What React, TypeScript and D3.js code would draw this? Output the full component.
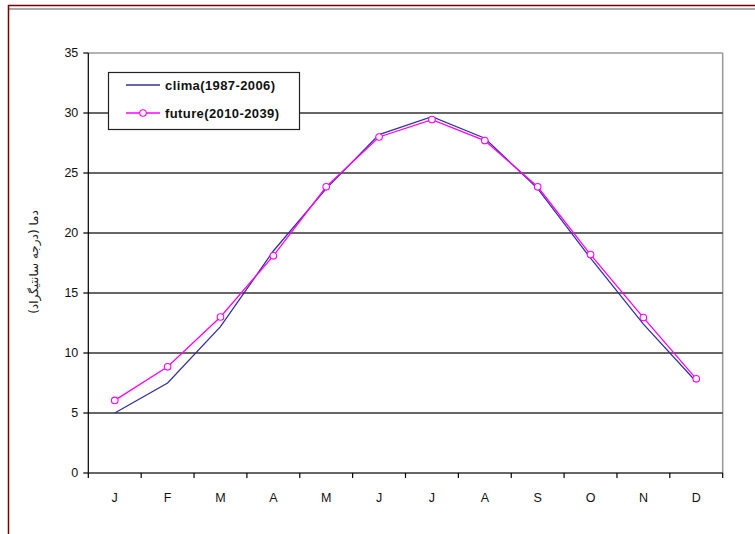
import React from "react";
import * as d3 from "d3";

const months = ["J", "F", "M", "A", "M", "J", "J", "A", "S", "O", "N", "D"];
const clima = [5.0, 7.5, 12.2, 18.5, 23.7, 28.2, 29.7, 27.9, 23.7, 17.9, 12.4, 7.6];
const future = [6.05, 8.85, 13.0, 18.1, 23.85, 28.0, 29.45, 27.7, 23.85, 18.2, 12.95, 7.85];
const yTicks = [0, 5, 10, 15, 20, 25, 30, 35];
const seriesNames = ["clima(1987-2006)", "future(2010-2039)"];
const yLabel = "دما (درجه سانتیگراد)";

export default function App() {
  const W = 755, H = 534;
  const left = 88.3, right = 722.7, top = 53, bottom = 473;
  const x = d3.scaleBand<number>().domain(d3.range(12)).range([left, right]);
  const y = d3.scaleLinear().domain([0, 35]).range([bottom, top]);
  const cx = (i: number) => (x(i) as number) + x.bandwidth() / 2;
  const line = d3.line<number>().x((_, i) => cx(i)).y((d) => y(d));
  const font = "'Liberation Sans', Arial, sans-serif";
  const tickX = d3.range(13).map((i) => left + i * x.step());

  return (
    <svg width={W} height={H} style={{ position: "absolute", left: 0, top: 0, background: "#fff" }} fontFamily={font}>
      {/* outer frame */}
      <line x1={8} x2={755} y1={5.5} y2={5.5} stroke="#7a0000" strokeWidth={1.5} />
      <line x1={9} x2={755} y1={9} y2={9} stroke="#555" strokeWidth={1.2} />
      <line x1={8.5} x2={8.5} y1={5} y2={534} stroke="#7a0000" strokeWidth={1.5} />

      {/* plot border top/right */}
      <line x1={left} x2={right} y1={top} y2={top} stroke="#999" strokeWidth={1.5} />
      <line x1={right} x2={right} y1={top} y2={bottom} stroke="#999" strokeWidth={1.5} />

      {/* gridlines */}
      {yTicks.filter((t) => t > 0 && t < 35).map((t) => (
        <line key={t} x1={left} x2={right} y1={y(t)} y2={y(t)} stroke="#333" strokeWidth={1.6} />
      ))}

      {/* y axis */}
      <line x1={left} x2={left} y1={top} y2={bottom} stroke="#000" strokeWidth={1.2} />
      {yTicks.map((t) => (
        <g key={t}>
          <line x1={left - 5} x2={left} y1={y(t)} y2={y(t)} stroke="#000" strokeWidth={1.2} />
          <text x={left - 10} y={y(t)} dy="0.35em" textAnchor="end" fontSize={12.5} fill="#111">{t}</text>
        </g>
      ))}

      {/* x axis */}
      <line x1={left} x2={right} y1={bottom} y2={bottom} stroke="#333" strokeWidth={1.6} />
      {tickX.map((tx, i) => (
        <line key={i} x1={tx} x2={tx} y1={bottom} y2={bottom + 5} stroke="#000" strokeWidth={1.2} />
      ))}
      {months.map((m, i) => (
        <text key={i} x={cx(i)} y={bottom + 29} textAnchor="middle" fontSize={12.5} fill="#111">{m}</text>
      ))}

      {/* y label */}
      <text transform={`translate(38,262) rotate(-90)`} textAnchor="middle" fontSize={12} fill="#222" direction="rtl" fontFamily="'DejaVu Sans', sans-serif">{yLabel}</text>

      {/* series */}
      <path d={line(clima) as string} fill="none" stroke="#333399" strokeWidth={1.3} />
      <path d={line(future) as string} fill="none" stroke="#ff00ff" strokeWidth={1.3} />
      {future.map((v, i) => (
        <circle key={i} cx={cx(i)} cy={y(v)} r={3.3} fill="#fff" stroke="#ff00ff" strokeWidth={1.1} />
      ))}

      {/* legend */}
      <rect x={108.5} y={72.5} width={191} height={57} fill="#fff" stroke="#222" strokeWidth={1.2} />
      <line x1={126} x2={160} y1={85} y2={85} stroke="#333399" strokeWidth={1.3} />
      <text x={165} y={85} dy="0.35em" fontSize={13} letterSpacing={0.4} fontWeight="bold" fill="#111">{seriesNames[0]}</text>
      <line x1={126} x2={160} y1={113} y2={113} stroke="#ff00ff" strokeWidth={1.3} />
      <circle cx={143} cy={113} r={3.3} fill="#fff" stroke="#ff00ff" strokeWidth={1.1} />
      <text x={165} y={113} dy="0.35em" fontSize={13} letterSpacing={0.4} fontWeight="bold" fill="#111">{seriesNames[1]}</text>
    </svg>
  );
}
